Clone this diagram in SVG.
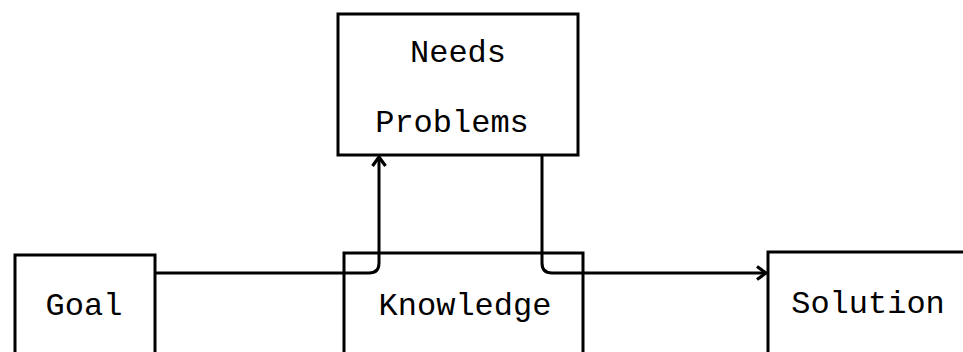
<svg xmlns="http://www.w3.org/2000/svg" width="963" height="352" viewBox="0 0 963 352">
<style>
.box{fill:#fff;stroke:#000;stroke-width:3}
.lbl{font-family:"Liberation Mono","Courier New",monospace;font-size:32px;fill:#000}
.con{fill:none;stroke:#000;stroke-width:3}
</style>
<defs>
<marker id="ah" markerWidth="14" markerHeight="16" refX="11" refY="8" orient="auto" markerUnits="userSpaceOnUse">
<path d="M2,1.5 L11,8 L2,14.5" fill="none" stroke="#000" stroke-width="3.2"/>
</marker>
</defs>
<rect width="963" height="352" fill="#fff"/>
<g id="needs">
<rect class="box" x="338" y="14" width="240" height="141"/>
<text class="lbl" x="458" y="62" text-anchor="middle">Needs</text>
<text class="lbl" x="452" y="132" text-anchor="middle">Problems</text>
</g>
<g id="goal">
<rect class="box" x="15" y="255" width="140" height="110"/>
<text class="lbl" x="84" y="315" text-anchor="middle">Goal</text>
</g>
<g id="knowledge">
<rect class="box" x="344" y="253" width="239" height="110"/>
<text class="lbl" x="465" y="315" text-anchor="middle">Knowledge</text>
</g>
<g id="solution">
<rect class="box" x="768" y="252" width="200" height="112"/>
<text class="lbl" x="868" y="313" text-anchor="middle">Solution</text>
</g>
<g id="connectors">
<path class="con" d="M155,273 L369,273 Q379,273 379,263 L379,157" marker-end="url(#ah)"/>
<path class="con" d="M542,155 L542,263 Q542,273 552,273 L766,273" marker-end="url(#ah)"/>
</g>
</svg>
